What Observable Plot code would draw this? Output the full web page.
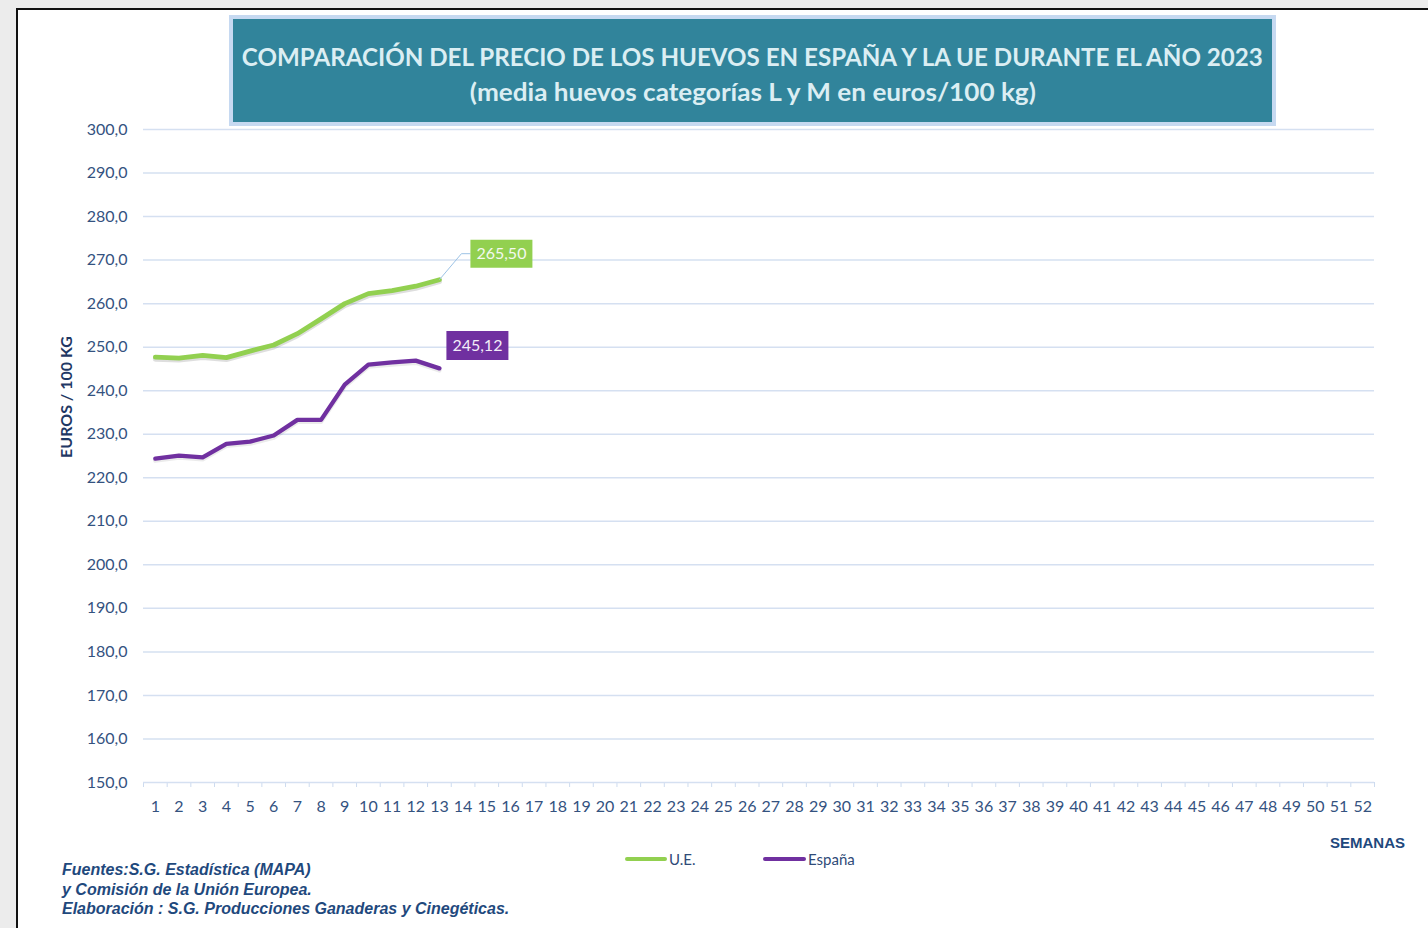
<!DOCTYPE html>
<html><head><meta charset="utf-8">
<script src="https://cdn.jsdelivr.net/npm/d3@7"></script>
<script src="https://cdn.jsdelivr.net/npm/@observablehq/plot@0.6"></script>
<style>
body{margin:0;background:#ececec;}
#page{position:relative;width:1428px;height:928px;overflow:hidden;font-family:Lato,sans-serif;}
#panel{position:absolute;left:16px;top:8px;right:-4px;bottom:-4px;background:#fff;border-left:2px solid #111;border-top:2px solid #111;}
#chart{position:absolute;left:0;top:0;}
#title{position:absolute;left:229px;top:15px;width:1039px;height:103px;background:#31849b;border:4px solid #c6d9f1;color:#dbeef3;font-weight:700;font-size:25px;text-align:center;}
#title div{position:absolute;left:-200px;right:-200px;height:30px;line-height:30px;white-space:nowrap;}
#title span{display:inline-block;transform-origin:center center;}
#ylab{position:absolute;left:65px;top:397px;transform:translate(-50%,-50%) rotate(-90deg);white-space:nowrap;font-weight:700;font-size:16px;color:#1f3864;}
.leg{position:absolute;top:849px;height:20px;line-height:20px;font-size:15px;color:#2f4b78;}
.leg i{position:absolute;top:8px;height:4px;border-radius:2px;}
#sem{position:absolute;left:1330px;top:834px;font-family:"Liberation Sans",Arial,sans-serif;font-weight:700;font-size:15px;color:#1f497d;}
#foot{position:absolute;left:62px;top:860px;font-family:"Liberation Sans",Arial,sans-serif;font-weight:700;font-style:italic;font-size:16px;line-height:19.5px;color:#1f497d;white-space:nowrap;}
</style></head>
<body>
<div id="page">
  <div id="panel"></div>
  <div id="chart"></div>
  <div id="title"><div style="top:22px"><span data-w="1021">COMPARACIÓN DEL PRECIO DE LOS HUEVOS EN ESPAÑA Y LA UE DURANTE EL AÑO 2023</span></div><div style="top:57px"><span data-w="566">(media huevos categorías L y M en euros/100 kg)</span></div></div>
  <div id="ylab">EUROS / 100 KG</div>
  <div id="sem">SEMANAS</div>
  <div class="leg" style="left:625px"><i style="left:0;width:42px;background:#92d050"></i><span style="margin-left:44px">U.E.</span></div>
  <div class="leg" style="left:763px"><i style="left:0;width:43px;background:#7030a0"></i><span style="margin-left:45px">España</span></div>
  <div id="foot">Fuentes:S.G. Estadística (MAPA)<br>y Comisión de la Unión Europea.<br>Elaboración : S.G. Producciones Ganaderas y Cinegéticas.</div>
</div>
<script>
// ---- data ----
const weeks = d3.range(1, 53);
const ueValues  = [247.7, 247.5, 248.1, 247.6, 249.1, 250.5, 253.1, 256.5, 260.0, 262.3, 263.0, 264.0, 265.50];
const espValues = [224.4, 225.1, 224.7, 227.8, 228.3, 229.7, 233.3, 233.3, 241.4, 246.0, 246.5, 246.9, 245.12];
const yTicks = d3.range(150, 301, 10);
const seriesNames = ["U.E.", "España"];
const seriesColors = ["#92d050", "#7030a0"];

const ueData = ueValues.map((v, i) => ({week: weeks[i], value: v}));
const espData = espValues.map((v, i) => ({week: weeks[i], value: v}));
const ueLast = ueData[ueData.length - 1];
const espLast = espData[espData.length - 1];
const boundaries = weeks.map(w => w - 0.5).concat([weeks[weeks.length - 1] + 0.5]);
const fmt2 = v => v.toFixed(2).replace(".", ",");

const boxSymbol = (w, h) => ({draw(ctx) { ctx.rect(-w / 2, -h / 2, w, h); }});
const leaderSymbol = {draw(ctx) { ctx.moveTo(0, 0); ctx.lineTo(22, -26); ctx.lineTo(31, -26); }};

const chart = Plot.plot({
  width: 1428, height: 928,
  marginLeft: 143, marginRight: 54, marginTop: 129, marginBottom: 146,
  style: {background: "transparent", fontFamily: "Lato, sans-serif", fontSize: "16px", color: "#34527f", overflow: "visible"},
  x: {domain: [0.5, 52.5], ticks: boundaries, tickSize: 5, tickFormat: () => "", label: null},
  y: {domain: [150, 300], ticks: yTicks, tickSize: 0, tickPadding: 16, tickFormat: d => d.toFixed(1).replace(".", ","), label: null},
  marks: [
    Plot.ruleY(yTicks, {stroke: "#d5e0f1", strokeWidth: 1.5}),
    Plot.text(weeks, {x: d => d, text: d => String(d), frameAnchor: "bottom", dy: 29, fill: "#34527f", fontSize: 16}),
    Plot.line(ueData, {x: "week", y: "value", stroke: "#000", strokeOpacity: 0.13, strokeWidth: 5, dy: 2, strokeLinecap: "round", strokeLinejoin: "round"}),
    Plot.line(espData, {x: "week", y: "value", stroke: "#000", strokeOpacity: 0.08, strokeWidth: 4.5, dy: 2, strokeLinecap: "round", strokeLinejoin: "round"}),
    Plot.line(ueData, {x: "week", y: "value", stroke: seriesColors[0], strokeWidth: 4.8, strokeLinecap: "round", strokeLinejoin: "round"}),
    Plot.line(espData, {x: "week", y: "value", stroke: seriesColors[1], strokeWidth: 4.3, strokeLinecap: "round", strokeLinejoin: "round"}),
    Plot.dot([ueLast], {x: "week", y: "value", symbol: leaderSymbol, fill: "none", stroke: "#9dc3e6", strokeWidth: 1}),
    Plot.dot([ueLast], {x: "week", y: "value", dx: 62, dy: -26, symbol: boxSymbol(62, 28), fill: seriesColors[0], stroke: "none"}),
    Plot.text([ueLast], {x: "week", y: "value", dx: 62, dy: -26, text: d => fmt2(d.value), fill: "#f4f9ee", fontSize: 16}),
    Plot.dot([espLast], {x: "week", y: "value", dx: 38, dy: -23, symbol: boxSymbol(62, 29), fill: seriesColors[1], stroke: "none"}),
    Plot.text([espLast], {x: "week", y: "value", dx: 38, dy: -23, text: d => fmt2(d.value), fill: "#f3eef8", fontSize: 16})
  ]
});
document.getElementById("chart").appendChild(chart);
chart.querySelectorAll('[aria-label="x-axis tick"], [aria-label="x-axis"] .tick line').forEach(el => el.setAttribute("stroke", "#cddbef"));
document.querySelectorAll("#title span").forEach(s => {
  const w = s.getBoundingClientRect().width;
  const target = +s.dataset.w;
  if (w > 0) s.style.transform = `scaleX(${target / w})`;
});
</script>
</body></html>
